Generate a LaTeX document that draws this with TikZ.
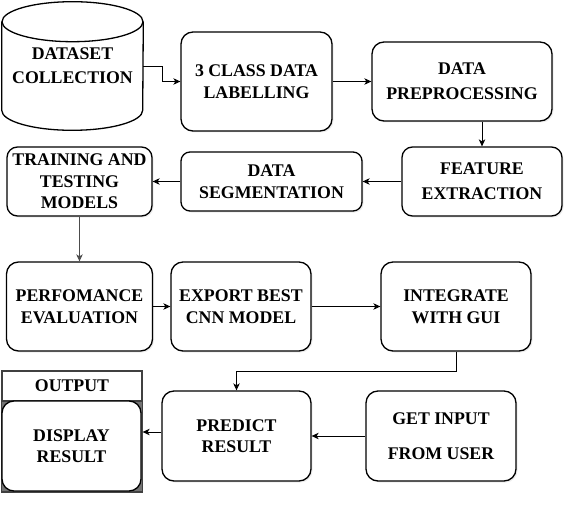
\documentclass[tikz,border=0pt]{standalone}
\usepackage{fontspec}
\setmainfont{Liberation Serif}[BoldFont={Liberation Serif Bold}]
\usepackage{tikz}
\usetikzlibrary{arrows.meta,positioning,calc,shadows}

\begin{document}
\begin{tikzpicture}[x=1pt, y=1pt, semithick, node distance=200pt]
\tikzstyle{box}=[draw=black, fill=white, line width=1.3pt, rounded corners=12pt, align=center, inner sep=2pt, font=\bfseries\fontsize{17.8}{21.5}\selectfont, drop shadow={shadow xshift=1.5pt, shadow yshift=-1.5pt, opacity=0.15}]
\tikzstyle{flow}=[-{Stealth[length=7pt,width=6.5pt,inset=2pt]}, line width=0.8pt, draw=black]
\useasboundingbox (0,0) rectangle (573,-508);

% top row
\node[align=center, minimum width=141pt, minimum height=128pt, font=\bfseries\fontsize{17.8}{21.5}\selectfont] (D) at (72.5,-66) {DATASET\\[2.5pt]COLLECTION};
\draw[line width=1.3pt] ([yshift=-20pt]D.north west) -- ([yshift=20pt]D.south west) arc[start angle=180, end angle=360, x radius=70.5pt, y radius=20pt] -- ([yshift=-20pt]D.north east);
\draw[line width=1.3pt] ([yshift=-20pt]D.north) ellipse[x radius=70.5pt, y radius=20pt];
\node[box, minimum width=180pt, minimum height=79pt] (P) at (462,-81.5) {DATA\\[3.5pt]PREPROCESSING};
\node[box, minimum width=151pt, minimum height=99pt, node distance=205.5pt, left of=P] (L) {3 CLASS DATA\\LABELLING};

% second row
\node[box, minimum width=145pt, minimum height=69pt, rounded corners=10.5pt] (T) at (79.5,-181.5) {TRAINING AND\\TESTING\\MODELS};
\node[box, minimum width=181pt, minimum height=59pt, rounded corners=9pt, node distance=192pt, right of=T] (S) {DATA\\SEGMENTATION};
\node[box, minimum width=160pt, minimum height=69pt, rounded corners=10.5pt, node distance=210.5pt, right of=S] (F) {FEATURE\\[3.5pt]EXTRACTION};

% third row
\node[box, minimum width=146pt, minimum height=89pt, node distance=125pt, below of=T] (E) {PERFOMANCE\\EVALUATION};
\node[box, minimum width=140pt, minimum height=89pt, node distance=161.5pt, right of=E] (X) {EXPORT BEST\\CNN MODEL};
\node[box, minimum width=150pt, minimum height=89pt, node distance=215pt, right of=X] (I) {INTEGRATE\\WITH GUI};

% bottom row
\node[box, minimum width=149pt, minimum height=90pt] (R) at (236.5,-436) {PREDICT\\RESULT};
\node[box, minimum width=150pt, minimum height=90pt, node distance=204.5pt, right of=R] (G) {GET INPUT\\[14pt]FROM USER};
\node[draw=black!75, fill=white, line width=1.3pt, minimum width=140pt, minimum height=30pt, inner sep=0pt, font=\bfseries\fontsize{17.8}{21.5}\selectfont] (H) at (72,-386) {OUTPUT};
\draw[draw=black!75, fill=black!55, line width=1.3pt] (H.south west) rectangle (H.east |- 0,-492);
\node[box, minimum width=139pt, minimum height=90pt] (O) at (71.5,-446) {DISPLAY\\RESULT};

\draw[flow] (D.east) -- ++(19,0) |- (L.west);
\draw[flow] (I.south) -- ++(0,-20) -| (R.north);
\draw[flow] ([yshift=4pt]R.west) -- ([yshift=4pt]R.west -| H.east);
\draw[flow, draw=black!70] (T.south) -- (E.north);
\draw[flow] (P.south -| F.north) -- (F.north);
\path[flow]
(L)   edge     (P)
(F)   edge     (S)
(S)   edge     (T)
(E)   edge     (X)
(X)   edge     (I)
(G)   edge     (R);
\end{tikzpicture}
\end{document}
